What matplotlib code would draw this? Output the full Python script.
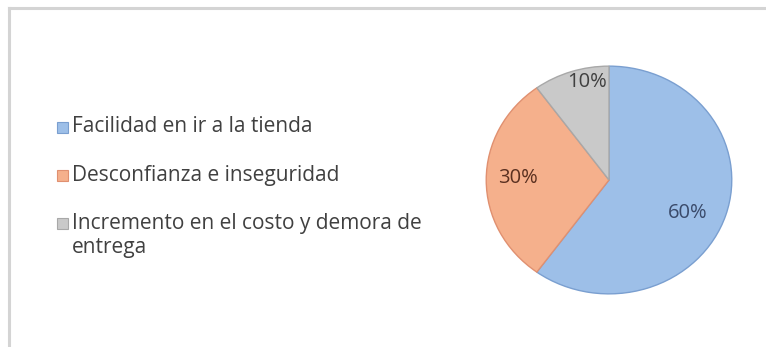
import matplotlib.pyplot as plt
from matplotlib.patches import Rectangle
from matplotlib.lines import Line2D

categories = ["Facilidad en ir a la tienda",
              "Desconfianza e inseguridad",
              "Incremento en el costo y demora de\nentrega"]
values = [60, 30, 10]
colors = ["#9dbfe8", "#f5b08c", "#c9c9c9"]
edge_colors = ["#7a9fd0", "#e09070", "#a8a8a8"]
label_colors = ["#3a4a6a", "#5a3020", "#404040"]

W, H = 766, 347
fig = plt.figure(figsize=(W / 100, H / 100), dpi=100)

# chart frame (left and top edges visible)
fig.add_artist(Line2D([9 / W, 9 / W], [0, 1 - 8 / H], color="#d4d4d4", lw=2.2))
fig.add_artist(Line2D([9 / W, 1], [1 - 8 / H, 1 - 8 / H], color="#d4d4d4", lw=2.2))

# pie
left, right, top, bottom = 485, 733, 65, 295
ax = fig.add_axes([left / W, 1 - bottom / H, (right - left) / W, (bottom - top) / H])
wedges, _ = ax.pie(values, colors=colors, startangle=90, counterclock=False,
                   wedgeprops=dict(linewidth=1.0))
for w, ec in zip(wedges, edge_colors):
    w.set_edgecolor(ec)
ax.set_aspect("auto")
ax.set_xlim(-1.01, 1.01)
ax.set_ylim(-1.01, 1.01)

label_pos = [(0.64, -0.29), (-0.74, 0.02), (-0.18, 0.86)]
for v, (x, y), c in zip(values, label_pos, label_colors):
    ax.text(x, y, f"{v}%", ha="center", va="center", fontsize=14.5,
            color=c, family="Open Sans")

# legend
rows_y = [127, 175, 223]
for name, y, fc, ec in zip(categories, rows_y, colors, edge_colors):
    fig.add_artist(Rectangle((57 / W, 1 - (y + 6) / H), 11 / W, 11 / H,
                             facecolor=fc, edgecolor=ec, lw=0.8,
                             transform=fig.transFigure))
    lines = name.split("\n")
    for i, line in enumerate(lines):
        fig.text(72 / W, 1 - (y + 25 * i) / H, line, ha="left", va="center",
                 fontsize=15, color="#404040", family="Open Sans")

fig.savefig("out.png", dpi=100, facecolor="white")
